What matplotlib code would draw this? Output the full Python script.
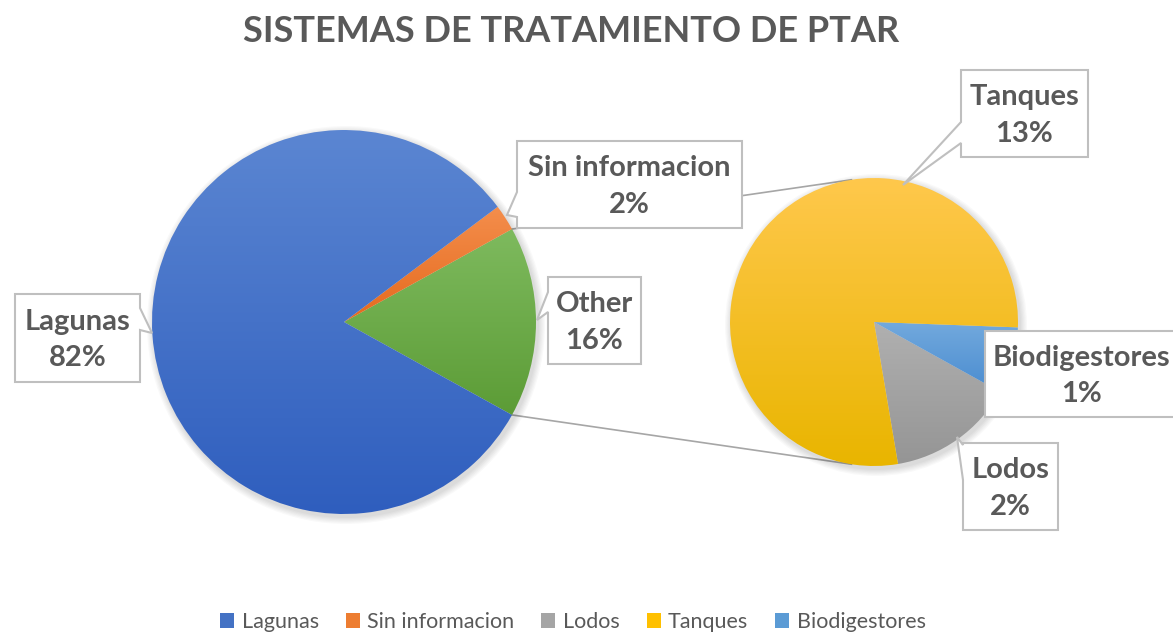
import numpy as np
import matplotlib.pyplot as plt
from matplotlib.patches import Polygon, Patch, Circle
from matplotlib.colors import to_rgb

plt.rcParams['font.family'] = ['Lato', 'DejaVu Sans']

W, H = 1173, 633

# data (percent of all plants)
main_labels = ["Lagunas", "Sin informacion"]
main_values = [81.8, 2.2]
other_labels = ["Tanques", "Lodos", "Biodigestores"]
other_values = [12.6, 2.3, 1.2]
other_total = sum(other_values)
total = sum(main_values) + other_total
legend_order = ["Lagunas", "Sin informacion", "Lodos", "Tanques", "Biodigestores"]

colors = {
    "Lagunas": ("#5B86D2", "#2F5EBE"),
    "Sin informacion": ("#F48E4C", "#E56A1E"),
    "Other": ("#7EBA5E", "#5C9C36"),
    "Tanques": ("#FFC84C", "#E9B500"),
    "Lodos": ("#B0B0B0", "#959595"),
    "Biodigestores": ("#72A9DD", "#4A8CD0"),
}
base = {"Lagunas": "#4472C4", "Sin informacion": "#ED7D31", "Lodos": "#A5A5A5",
        "Tanques": "#FFC000", "Biodigestores": "#5B9BD5"}

txt = "#595959"
line_c = "#A6A6A6"


def py(y):
    return H - y


fig = plt.figure(figsize=(W / 100, H / 100), dpi=100)
ax = fig.add_axes([0, 0, 1, 1])
ax.set_axis_off()


def gradient_fill(wedge, ctop, cbot):
    ext = wedge.get_path().get_extents()
    t = np.linspace(0, 1, 256)[:, None]
    a, b = np.array(to_rgb(cbot)), np.array(to_rgb(ctop))
    img = (a + (b - a) * t)[:, None, :]
    im = ax.imshow(img, extent=[ext.x0, ext.x1, ext.y0, ext.y1], origin='lower',
                   interpolation='bilinear', zorder=2, aspect='auto')
    im.set_clip_path(wedge)
    wedge.set_facecolor('none')


def shadow(c, r):
    # soft drop shadow like the office chart style
    for k in range(6):
        ax.add_patch(Circle((c[0] + 2, c[1] - 3), r + 1 + k * 1.2, facecolor='black',
                            alpha=0.025, lw=0, zorder=1.5))


# main pie: Other centered on the right side
c1, r1 = (344, py(322)), 192
shadow(c1, r1)
m_names = ["Other", "Sin informacion", "Lagunas"]
m_vals = [other_total, main_values[1], main_values[0]]
wedges1, _ = ax.pie(m_vals, startangle=-other_total / total * 180, counterclock=True,
                    center=c1, radius=r1, wedgeprops=dict(linewidth=0))
for w, n in zip(wedges1, m_names):
    gradient_fill(w, *colors[n])

# secondary pie (breakdown of Other)
c2, r2 = (874, py(322)), 144
shadow(c2, r2)
s_names = ["Lodos", "Biodigestores", "Tanques"]
s_vals = [other_values[1], other_values[2], other_values[0]]
wedges2, _ = ax.pie(s_vals, startangle=-80.4, counterclock=True,
                    center=c2, radius=r2, wedgeprops=dict(linewidth=0))
for w, n in zip(wedges2, s_names):
    gradient_fill(w, *colors[n])

# connector lines
half = np.deg2rad(other_total / total * 180)
for s in (1, -1):
    x0 = c1[0] + r1 * np.cos(half)
    y0 = c1[1] + s * r1 * np.sin(half)
    a2 = np.deg2rad(s * 99)
    x1 = c2[0] + r2 * np.cos(a2)
    y1 = c2[1] + r2 * np.sin(a2)
    ax.plot([x0, x1], [y0, y1], color=line_c, lw=1.2, zorder=1)


def callout(box, text, side=None, notch=None, tip=None):
    x0, y0, x1, y1 = box
    if side == 'left':
        pts = [(x0, y0), (x1, y0), (x1, y1), (x0, y1), (x0, notch[1]), tip, (x0, notch[0])]
    elif side == 'right':
        pts = [(x0, y0), (x1, y0), (x1, notch[0]), tip, (x1, notch[1]), (x1, y1), (x0, y1)]
    else:
        pts = [(x0, y0), (x1, y0), (x1, y1), (x0, y1)]
    pts = [(x, py(y)) for x, y in pts]
    ax.add_patch(Polygon(pts, closed=True, facecolor='white', edgecolor='#BFBFBF',
                         lw=1.5, zorder=5))
    ax.text((x0 + x1) / 2, py((y0 + y1) / 2 + 2), text, ha='center', va='center',
            multialignment='center', fontsize=21, fontweight='bold', color=txt,
            linespacing=1.5, zorder=6)


def pct(v):
    return f"{v / total * 100:.0f}%"


callout((15, 294, 140, 382), f"Lagunas\n{pct(main_values[0])}", 'right', (308, 330), (152, 333))
callout((517, 141, 742, 228), f"Sin informacion\n{pct(main_values[1])}", 'left', (192, 217), (507, 215))
callout((548, 277, 641, 364), f"Other\n{pct(other_total)}", 'left', (292, 312), (537, 320))
callout((961, 70, 1088, 157), f"Tanques\n{pct(other_values[0])}", 'left', (122, 143), (903, 185))
callout((985, 331, 1178, 417), f"Biodigestores\n{pct(other_values[2])}")
callout((963, 443, 1058, 530), f"Lodos\n{pct(other_values[1])}", 'left', (445, 480), (957, 437))

ax.text(571, py(32), "SISTEMAS DE TRATAMIENTO DE PTAR", ha='center', va='center',
        fontsize=26, fontweight='bold', color=txt)

handles = [Patch(facecolor=base[n], label=n) for n in legend_order]
fig.legend(handles=handles, loc='center', bbox_to_anchor=(573 / W, 1 - 622 / H), ncol=5,
           frameon=False, fontsize=15.5, handlelength=0.65, handleheight=0.65,
           handletextpad=0.35, columnspacing=1.25, labelcolor=txt)

ax.set_xlim(0, W)
ax.set_ylim(0, H)
ax.set_aspect('auto')
fig.savefig("out.png", dpi=100)
